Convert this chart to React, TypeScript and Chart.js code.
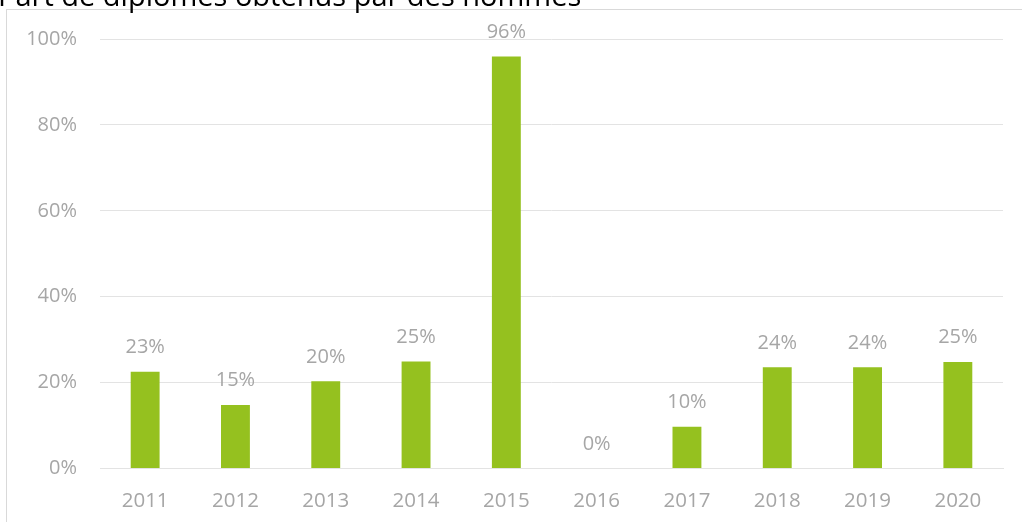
import React, { useEffect, useRef } from "react";
import { Chart, registerables } from "chart.js";

Chart.register(...registerables);

const title = "Part de diplômes obtenus par des hommes";
const categories = ["2011", "2012", "2013", "2014", "2015", "2016", "2017", "2018", "2019", "2020"];
const shareMen = [22.5, 14.8, 20.3, 24.9, 95.9, 0, 9.7, 23.6, 23.6, 24.8];

const FONT = "'Open Sans', sans-serif";
const GREY_TEXT = "#a6a6a6";
const GRID = "#e3e3e3";
const BAR = "#95c11f";

export default function App() {
  const ref = useRef<HTMLCanvasElement | null>(null);

  useEffect(() => {
    if (!ref.current) return;
    const framePlugin = {
      id: "frame",
      beforeDraw(chart: any) {
        const ctx = chart.ctx;
        ctx.save();
        ctx.strokeStyle = "#d9d9d9";
        ctx.lineWidth = 1;
        ctx.strokeRect(6.5, 9.5, chart.width + 10, chart.height + 10);
        ctx.fillStyle = "#000000";
        ctx.font = `29px ${FONT}`;
        ctx.textAlign = "left";
        ctx.textBaseline = "alphabetic";
        ctx.fillText(title, -2, 6);
        ctx.restore();
      },
    };
    const labelPlugin = {
      id: "valueLabels",
      afterDatasetsDraw(chart: any) {
        const ctx = chart.ctx;
        const meta = chart.getDatasetMeta(0);
        ctx.save();
        ctx.fillStyle = GREY_TEXT;
        ctx.font = `20px ${FONT}`;
        ctx.textAlign = "center";
        ctx.textBaseline = "alphabetic";
        meta.data.forEach((el: any, i: number) => {
          const v = shareMen[i];
          ctx.fillText(Math.round(v) + "%", el.x, el.y - 18.5);
        });
        ctx.restore();
      },
    };
    const chart = new Chart(ref.current, {
      type: "bar",
      data: {
        labels: categories,
        datasets: [
          {
            data: shareMen,
            backgroundColor: BAR,
            borderWidth: 0,
            barPercentage: 0.32,
            categoryPercentage: 1,
          },
        ],
      },
      options: {
        responsive: false,
        animation: false,
        layout: { padding: { left: 0, top: 39, right: 19, bottom: 0 } },
        plugins: {
          legend: { display: false },
          tooltip: { enabled: false },
          title: { display: false },
        },
        scales: {
          x: {
            grid: { display: false, drawTicks: false },
            border: { display: true, color: GRID, width: 1 },
            ticks: { color: GREY_TEXT, font: { family: FONT, size: 20.5 }, padding: 20 },
            afterFit(scale: any) {
              scale.height = 53.5;
            },
          },
          y: {
            min: 0,
            max: 100,
            grid: { color: GRID, lineWidth: 1, drawTicks: false },
            border: { display: false },
            ticks: {
              stepSize: 20,
              color: GREY_TEXT,
              font: { family: FONT, size: 20 },
              padding: 23,
              callback: (v: any) => v + "%",
            },
            afterFit(scale: any) {
              scale.width = 100;
            },
          },
        },
      },
      plugins: [framePlugin, labelPlugin],
    });
    return () => chart.destroy();
  }, []);

  return (
    <div style={{ position: "absolute", left: 0, top: 0, width: 1022, height: 522, background: "#ffffff" }}>
      <canvas ref={ref} width={1022} height={522} style={{ display: "block" }} />
    </div>
  );
}
